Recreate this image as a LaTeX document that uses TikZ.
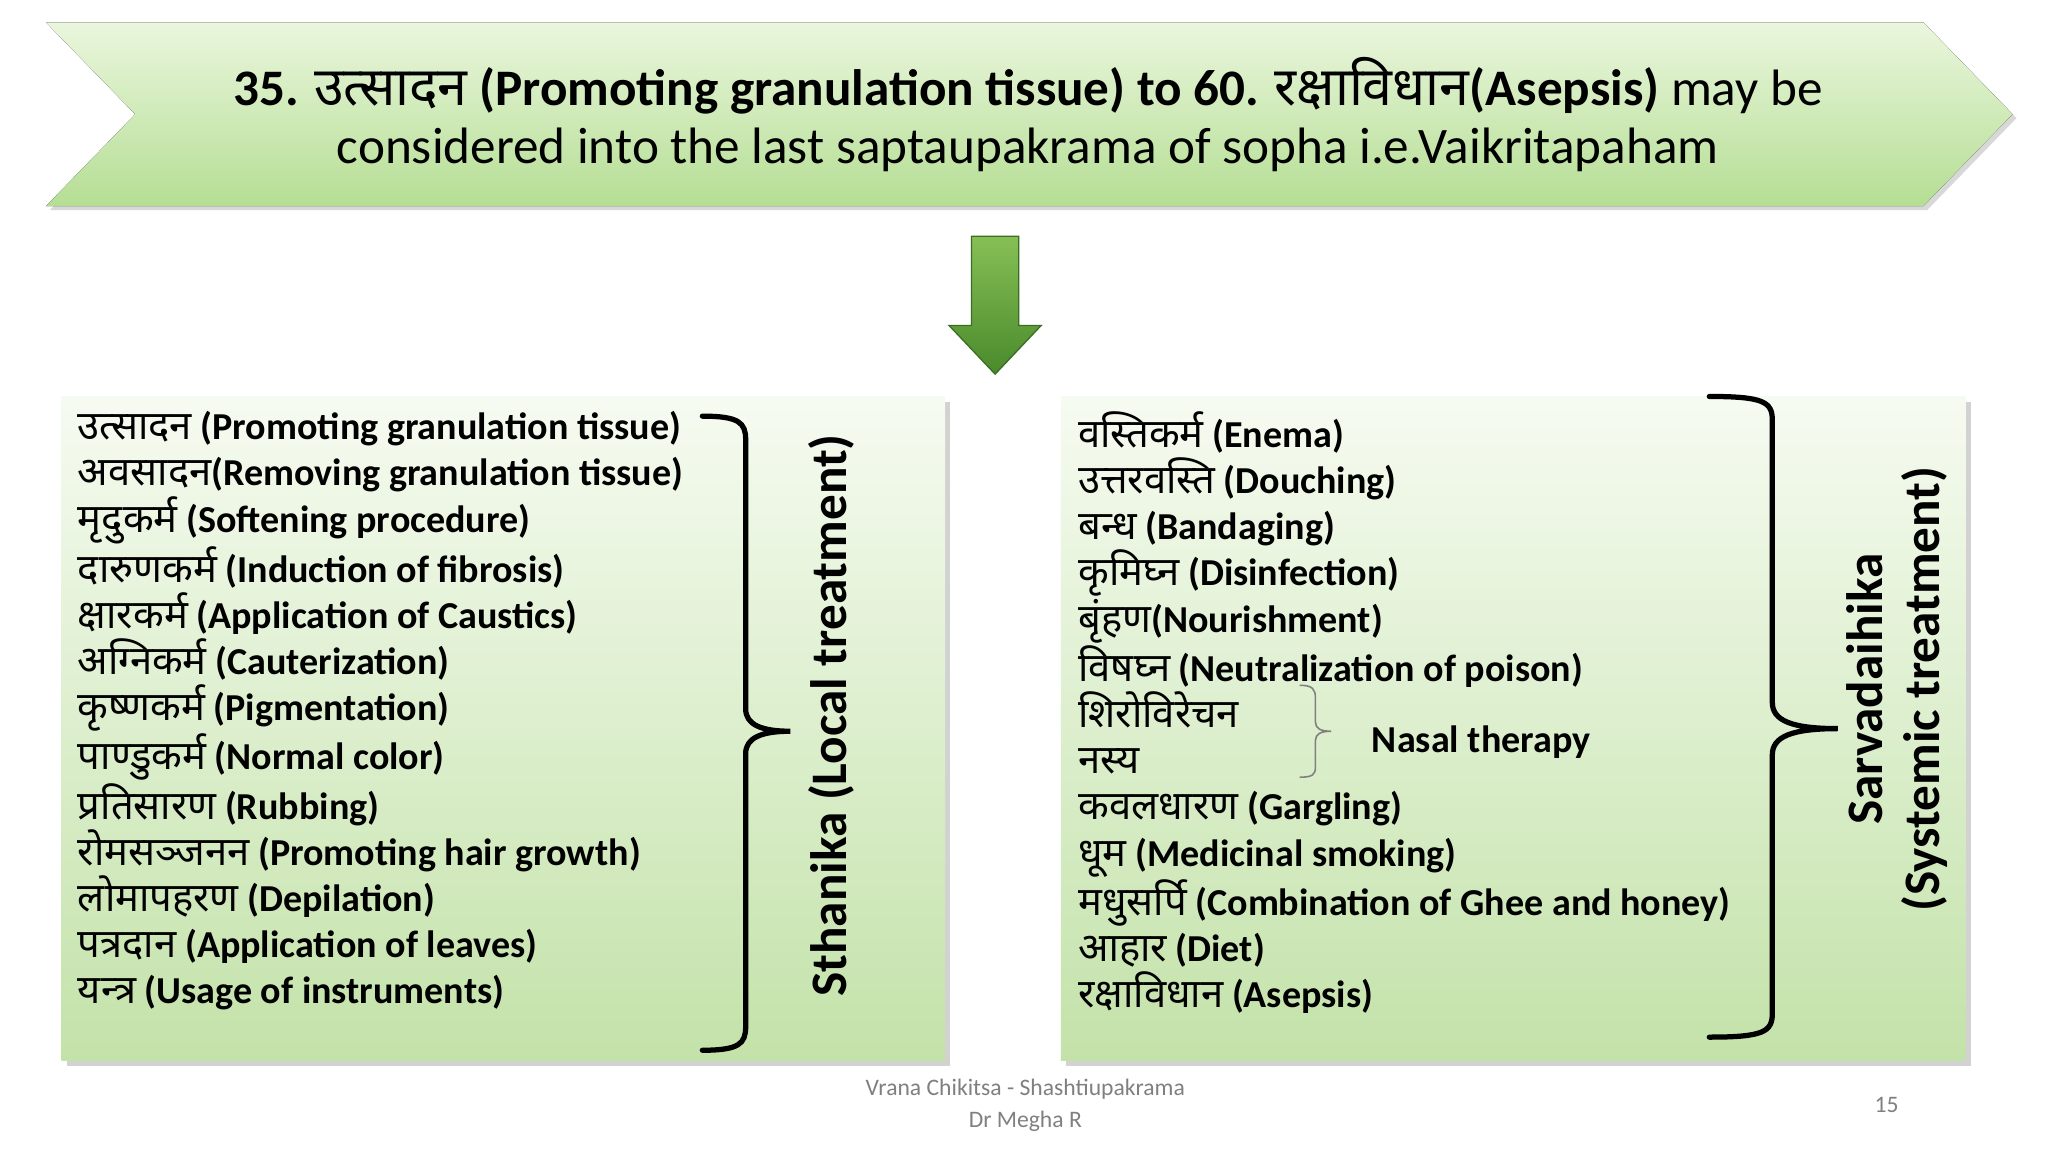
\documentclass[tikz,border=0pt]{standalone}
\usepackage{fontspec}
\setmainfont{Carlito}
\newfontfamily\devf[Script=Devanagari,Scale=1.05]{Noto Sans}
\newcommand{\dv}[1]{{\devf\mdseries #1}}
\usetikzlibrary{shadows}
\definecolor{bantop}{HTML}{EAF6DD}
\definecolor{banbot}{HTML}{B5DE94}
\definecolor{boxtop}{HTML}{F6FBF1}
\definecolor{boxbot}{HTML}{C3E2A9}
\definecolor{arrtop}{HTML}{86BF55}
\definecolor{arrbot}{HTML}{4A8A2C}
\tikzset{
  panel/.style={top color=boxtop,bottom color=boxbot,draw=none,drop shadow={shadow xshift=2pt,shadow yshift=-2pt,opacity=0.35}},
  brc/.style={line width=2pt,line cap=round},
  listtxt/.style={anchor=north west,align=left,font=\fontsize{14.5}{17.6}\selectfont\bfseries,inner sep=0pt},
  foot/.style={font=\fontsize{9}{12}\selectfont,text=gray,align=center}
}
\begin{document}
\begin{tikzpicture}[x=0.5pt,y=-0.5pt]
\useasboundingbox[fill=white] (0,0) rectangle (1560,877.5);
% banner
\fill[top color=bantop,bottom color=banbot,drop shadow={shadow xshift=1.5pt,shadow yshift=-1.5pt,opacity=0.3}]
  (35,17) -- (1465,17) -- (1533,87) -- (1465,157) -- (35,157) -- (103,87) -- cycle;
\node (title) at (783,87) [align=center,font=\fontsize{19.5}{22}\selectfont]
 {\textbf{35. \dv{उत्सादन} (Promoting granulation tissue) to 60. \dv{रक्षाविधान}(Asepsis)} may be\\
 considered into the last saptaupakrama of sopha i.e.Vaikritapaham};
% arrow
\fill[top color=arrtop,bottom color=arrbot,draw=arrbot!80!black,line width=0.5pt]
 (740,180) -- (776,180) -- (776,248) -- (793,248) -- (758,285) -- (723,248) -- (740,248) -- cycle;
% panels
\fill[panel] (47,302) rectangle (720,808);
\fill[panel] (808,302) rectangle (1497,808);
% left list
\node (left) [listtxt] at (59,313) {%
\dv{उत्सादन} (Promoting granulation tissue)\\
\dv{अवसादन}(Removing granulation tissue)\\
\dv{मृदुकर्म} (Softening procedure)\\
\dv{दारुणकर्म} (Induction of fibrosis)\\
\dv{क्षारकर्म} (Application of Caustics)\\
\dv{अग्निकर्म} (Cauterization)\\
\dv{कृष्णकर्म} (Pigmentation)\\
\dv{पाण्डुकर्म} (Normal color)\\
\dv{प्रतिसारण} (Rubbing)\\
\dv{रोमसञ्जनन} (Promoting hair growth)\\
\dv{लोमापहरण} (Depilation)\\
\dv{पत्रदान} (Application of leaves)\\
\dv{यन्त्र} (Usage of instruments)};
\draw[brc] (535,317) .. controls (563,317) and (568,322) .. (568,335) -- (568,540)
  .. controls (568,552) and (580,557) .. (602,557) .. controls (580,557) and (568,562) .. (568,574)
  -- (568,782) .. controls (568,795) and (563,800) .. (535,800);
\node (lt) at (633,545) [rotate=90,font=\fontsize{19.5}{22}\selectfont\bfseries] {Sthanika (Local treatment)};
% right list
\node (right) [listtxt] at (821,313) {%
\dv{वस्तिकर्म} (Enema)\\
\dv{उत्तरवस्ति} (Douching)\\
\dv{बन्ध} (Bandaging)\\
\dv{कृमिघ्न} (Disinfection)\\
\dv{बृंहण}(Nourishment)\\
\dv{विषघ्न} (Neutralization of poison)\\
\dv{शिरोविरेचन}\\
\dv{नस्य}\\
\dv{कवलधारण} (Gargling)\\
\dv{धूम} (Medicinal smoking)\\
\dv{मधुसर्पि} (Combination of Ghee and honey)\\
\dv{आहार} (Diet)\\
\dv{रक्षाविधान} (Asepsis)};
\draw[line width=0.6pt,gray] (990,522) .. controls (1000,522) and (1002,525) .. (1002,532) -- (1002,550)
  .. controls (1002,555) and (1006,557) .. (1014,557) .. controls (1006,557) and (1002,559) .. (1002,564)
  -- (1002,584) .. controls (1002,590) and (1000,592) .. (990,592);
\node (nasal) at (1038,565) [anchor=west,font=\fontsize{14.5}{16}\selectfont\bfseries] {Nasal therapy};
\draw[brc] (1302,302) .. controls (1343,302) and (1350,306) .. (1350,320) -- (1350,535)
  .. controls (1350,549) and (1365,555) .. (1400,555) .. controls (1365,555) and (1350,561) .. (1350,575)
  -- (1350,772) .. controls (1350,786) and (1343,790) .. (1302,790);
\node (rt) at (1445,525) [rotate=90,align=center,font=\fontsize{19.5}{22}\selectfont\bfseries] {Sarvadaihika\\(Systemic treatment)};
% footer
\node (f1) at (781,842) [foot] {Vrana Chikitsa - Shashtiupakrama\\Dr Megha R};
\node (f2) at (1437,842) [foot] {15};
\end{tikzpicture}
\end{document}
